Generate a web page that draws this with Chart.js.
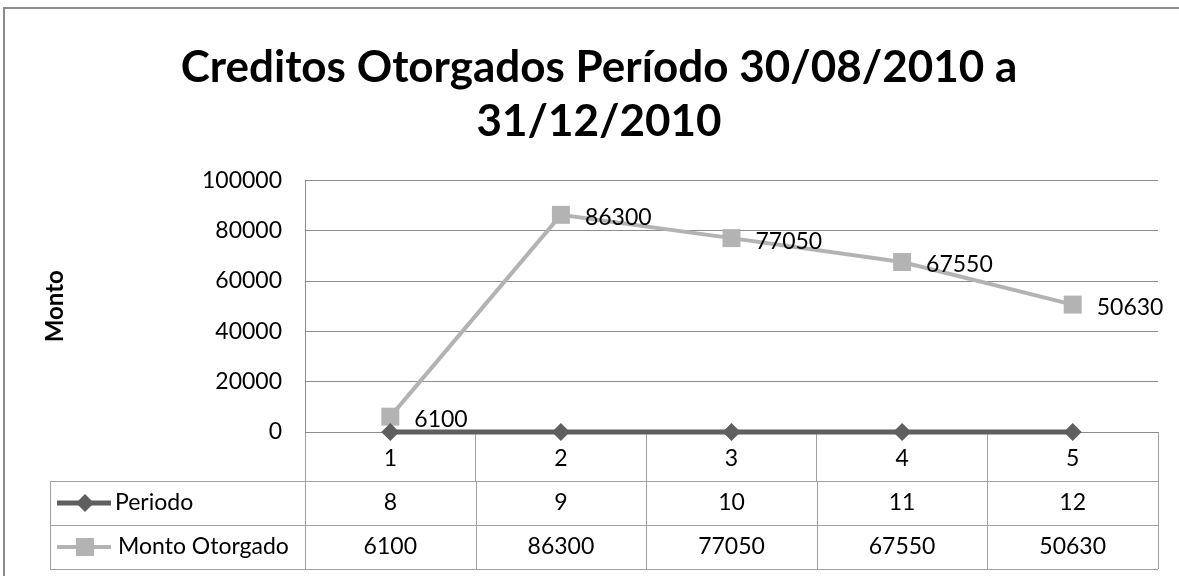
<!DOCTYPE html>
<html>
<head>
<meta charset="utf-8">
<script src="https://cdn.jsdelivr.net/npm/chart.js@4"></script>
<style>
  html, body { margin: 0; padding: 0; background: #fff; }
  #wrap { width: 1179px; height: 576px; position: relative; }
</style>
</head>
<body>
<div id="wrap"><canvas id="c"></canvas></div>
<script>
// ---- data ----
const categories = ['1', '2', '3', '4', '5'];
const periodo = [8, 9, 10, 11, 12];
const montoOtorgado = [6100, 86300, 77050, 67550, 50630];
const seriesNames = ['Periodo', 'Monto Otorgado'];
const titleLines = ['Creditos Otorgados Período 30/08/2010 a', '31/12/2010'];
const yAxisTitle = 'Monto';
const yMin = 0, yMax = 100000, yStep = 20000;

const FONT = 'Lato';
const TXT = 23;
const darkGray = '#5f5f5f';
const lightGray = '#b3b3b3';
const gridGray = '#8c8c8c';
const tableGray = '#a0a0a0';

const frame = {
  id: 'frame',
  beforeDraw(chart) {
    const ctx = chart.ctx;
    ctx.save();
    ctx.fillStyle = '#fff';
    ctx.fillRect(0, 0, chart.width, chart.height);
    ctx.strokeStyle = gridGray;
    ctx.lineWidth = 2;
    ctx.strokeRect(4, 8, chart.width + 10, chart.height + 10);
    ctx.restore();
  }
};

const dataLabels = {
  id: 'dataLabels',
  afterDatasetsDraw(chart) {
    const ctx = chart.ctx;
    const meta = chart.getDatasetMeta(1);
    ctx.save();
    ctx.font = TXT + 'px ' + FONT;
    ctx.fillStyle = '#000';
    ctx.textAlign = 'left';
    ctx.textBaseline = 'middle';
    meta.data.forEach((pt, i) => {
      ctx.fillText(String(montoOtorgado[i]), pt.x + 24, pt.y + 3);
    });
    ctx.restore();
  }
};

const dataTable = {
  id: 'dataTable',
  afterDraw(chart) {
    const ctx = chart.ctx;
    const xs = chart.scales.x;
    const area = chart.chartArea;
    const n = categories.length;
    const half = (xs.getPixelForValue(1) - xs.getPixelForValue(0)) / 2;
    const tableLeft = 50;
    const rowTops = [area.bottom + 49, area.bottom + 93, area.bottom + 137];
    ctx.save();
    ctx.strokeStyle = tableGray;
    ctx.lineWidth = 1;
    ctx.beginPath();
    rowTops.forEach(y => {
      ctx.moveTo(tableLeft, y + 0.5);
      ctx.lineTo(area.right, y + 0.5);
    });
    ctx.moveTo(tableLeft + 0.5, rowTops[0]);
    ctx.lineTo(tableLeft + 0.5, rowTops[2]);
    for (let i = 0; i <= n; i++) {
      const x = Math.round(xs.getPixelForValue(i) - half) + 0.5;
      ctx.moveTo(x, rowTops[0]);
      ctx.lineTo(x, rowTops[2]);
    }
    ctx.stroke();

    const rows = [periodo, montoOtorgado];
    const colors = [darkGray, lightGray];
    ctx.font = TXT + 'px ' + FONT;
    ctx.fillStyle = '#000';
    ctx.textBaseline = 'middle';
    rows.forEach((vals, r) => {
      const yc = (rowTops[r] + rowTops[r + 1]) / 2;
      ctx.textAlign = 'center';
      vals.forEach((v, i) => {
        ctx.fillText(String(v), xs.getPixelForValue(i), yc);
      });
      // legend key
      ctx.strokeStyle = colors[r];
      ctx.lineWidth = r === 0 ? 5 : 4;
      ctx.beginPath();
      ctx.moveTo(57, yc);
      ctx.lineTo(111, yc);
      ctx.stroke();
      ctx.fillStyle = colors[r];
      ctx.beginPath();
      if (r === 0) {
        ctx.moveTo(85, yc - 9); ctx.lineTo(94, yc); ctx.lineTo(85, yc + 9); ctx.lineTo(76, yc);
        ctx.closePath();
      } else {
        ctx.rect(76, yc - 9, 18, 18);
      }
      ctx.fill();
      ctx.fillStyle = '#000';
      ctx.textAlign = 'left';
      ctx.fillText(seriesNames[r], r === 0 ? 115 : 118, yc);
    });
    ctx.restore();
  }
};

new Chart(document.getElementById('c'), {
  type: 'line',
  data: {
    labels: categories,
    datasets: [
      {
        label: seriesNames[0],
        data: periodo,
        borderColor: darkGray,
        backgroundColor: darkGray,
        borderWidth: 5,
        pointStyle: 'rectRot',
        pointRadius: 9,
        pointBorderWidth: 0,
        clip: false,
        tension: 0
      },
      {
        label: seriesNames[1],
        data: montoOtorgado,
        borderColor: lightGray,
        backgroundColor: lightGray,
        borderWidth: 4,
        pointStyle: 'rect',
        pointRadius: 12.7,
        pointBorderWidth: 0,
        clip: false,
        tension: 0
      }
    ]
  },
  options: {
    responsive: true,
    maintainAspectRatio: false,
    devicePixelRatio: 1,
    animation: false,
    events: [],
    layout: { padding: { left: 40, right: 21, top: 0, bottom: 0 } },
    plugins: {
      legend: { display: false },
      tooltip: { enabled: false },
      title: {
        display: true,
        text: titleLines,
        color: '#000',
        font: { family: FONT, size: 44, weight: 'bold', lineHeight: 1.22 },
        padding: { top: 41, bottom: 32 }
      }
    },
    scales: {
      x: {
        offset: true,
        grid: {
          offset: true,
          drawOnChartArea: false,
          drawTicks: true,
          tickLength: 49,
          color: tableGray
        },
        border: { display: false },
        ticks: { color: '#000', font: { family: FONT, size: TXT }, padding: -36 },
        afterFit(s) { s.height = 144; }
      },
      y: {
        min: yMin,
        max: yMax,
        ticks: {
          stepSize: yStep,
          color: '#000',
          font: { family: FONT, size: TXT },
          padding: 23,
          callback: v => String(v)
        },
        grid: { color: gridGray, drawTicks: false },
        border: { display: true, color: gridGray },
        title: {
          display: true,
          text: yAxisTitle,
          color: '#000',
          font: { family: FONT, size: 24, weight: 'bold' },
          padding: { top: 1, bottom: 4 }
        },
        afterFit(s) { s.width = 265; }
      }
    }
  },
  plugins: [frame, dataLabels, dataTable]
});
</script>
</body>
</html>
